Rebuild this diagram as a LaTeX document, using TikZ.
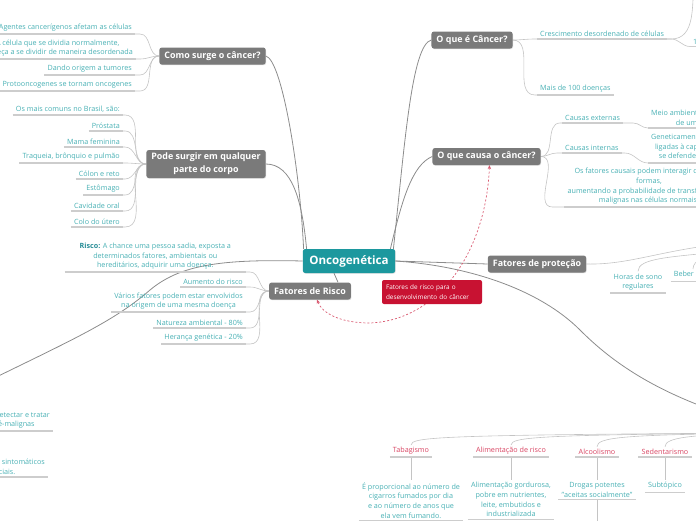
\documentclass[tikz,border=0pt]{standalone}
\usepackage{fontspec}
\setmainfont{Open Sans}
\usetikzlibrary{arrows.meta,shadows,backgrounds}

\definecolor{topicgray}{RGB}{122,122,122}
\definecolor{rootteal}{RGB}{28,152,158}
\definecolor{leafteal}{RGB}{72,176,180}
\definecolor{darkteal}{RGB}{38,140,150}
\definecolor{riskred}{RGB}{216,68,98}
\definecolor{relred}{RGB}{200,18,50}
\definecolor{branchgray}{RGB}{140,140,140}
\definecolor{twiggray}{RGB}{196,196,196}

\tikzset{
  topic/.style={fill=topicgray, text=white, rounded corners=2.5pt, align=center,
    font=\fontsize{8.9}{12.8}\selectfont\bfseries, inner xsep=5pt, inner ysep=2pt,
    minimum height=17pt, drop shadow={shadow xshift=0.5pt, shadow yshift=-0.7pt, opacity=0.3}},
  rootbox/.style={topic, fill=rootteal, font=\fontsize{11.6}{13}\selectfont\bfseries,
    inner xsep=6.5pt, minimum height=24pt},
  leaf/.style={text=leafteal, align=center, font=\fontsize{7.2}{9.7}\selectfont,
    inner xsep=3pt, inner ysep=2.2pt,
    append after command={(\tikzlastnode.south west) edge[uline] (\tikzlastnode.south east)}},
  riskleaf/.style={leaf, text=riskred},
  relbox/.style={fill=relred, text=white, rounded corners=2pt, align=left, text width=92pt,
    inner xsep=4pt, inner ysep=3pt, minimum height=24pt, font=\fontsize{6.4}{10}\selectfont},
  uline/.style={draw=twiggray!85, line width=1.1pt},
  twig/.style={draw=twiggray, line width=0.6pt},
  branch/.style={draw=branchgray, line width=0.8pt},
  relline/.style={draw=relred!70, line width=0.7pt, dash pattern=on 2pt off 2pt,
    <->, >={Stealth[length=4pt,width=3.5pt]}},
}

\begin{document}
\begin{tikzpicture}[x=1pt, y=-1pt]
    \useasboundingbox (0,0) rectangle (696,520);

    % central and main topics
    \node[rootbox] (onco) at (349,261) {Oncogenética};
    \node[topic] (como) at (212.5,56) {Como surge o câncer?};
    \node[topic, minimum height=28pt] (pode) at (206,164) {Pode surgir em qualquer\\parte do corpo};
    \node[topic] (risco) at (310,291) {Fatores de Risco};
    \node[topic] (oque) at (472,40) {O que é Câncer?};
    \node[topic] (causa) at (486.5,156.5) {O que causa o câncer?};
    \node[topic] (prot) at (537,264) {Fatores de proteção};

    % topics that lie outside the page
    \coordinate (fat) at (760,425);
    \coordinate (rast) at (-40,395);
    \coordinate (hab) at (730,243);
    \coordinate (cresc) at (694,-20);
    \coordinate (alcd) at (597,540);

    % como surge
    \node[leaf, anchor=south east] (c1) at (135,34) {Agentes cancerígenos afetam as células};
    \node[leaf, anchor=south east] (c2) at (136,59) {A célula que se dividia normalmente,\\começa a se dividir de maneira desordenada};
    \node[leaf, anchor=south east] (c3) at (135,75) {Dando origem a tumores};
    \node[leaf, anchor=south east] (c4) at (135,91) {Protooncogenes se tornam oncogenes};

    % pode surgir
    \node[leaf, anchor=south east] (p1) at (123,115) {Os mais comuns no Brasil, são:};
    \node[leaf, anchor=south east] (p2) at (123,131) {Próstata};
    \node[leaf, anchor=south east] (p3) at (123,147) {Mama feminina};
    \node[leaf, anchor=south east] (p4) at (123,163) {Traqueia, brônquio e pulmão};
    \node[leaf, anchor=south east] (p5) at (123,179) {Cólon e reto};
    \node[leaf, anchor=south east] (p6) at (123,195) {Estômago};
    \node[leaf, anchor=south east] (p7) at (123,211) {Cavidade oral};
    \node[leaf, anchor=south east] (p8) at (123,227) {Colo do útero};

    % fatores de risco
    \node[leaf, anchor=south east, minimum width=181pt] (r1) at (246,272) {{\color{darkteal}\bfseries Risco:} A chance uma pessoa sadia, exposta a\\determinados fatores, ambientais ou\\hereditários, adquirir uma doença.};
    \node[leaf, anchor=south east] (r2) at (246,287) {Aumento do risco};
    \node[leaf, anchor=south east] (r3) at (246,312) {Vários fatores podem estar envolvidos\\na origem de uma mesma doença};
    \node[leaf, anchor=south east] (r4) at (246,328) {Natureza ambiental - 80\%};
    \node[leaf, anchor=south east] (r5) at (246,344) {Herança genética - 20\%};

    % o que e cancer
    \node[leaf, anchor=south west] (q1) at (537,39) {Crescimento desordenado de células};
    \node[leaf, anchor=south west] (q2) at (537,95) {Mais de 100 doenças};
    \node[leaf, anchor=south west] (q1b) at (690,46.5) {1};

    % o que causa
    \node[leaf, anchor=south west] (k1) at (562,123) {Causas externas};
    \node[leaf, anchor=south west] (k2) at (562,153) {Causas internas};
    \node[leaf, anchor=south] (k3) at (649,207) {Os fatores causais podem interagir de várias\\formas,\\aumentando a probabilidade de transformações\\malignas nas células normais.};
    \node[leaf, anchor=south west] (k1b) at (648,128) {Meio ambiente e hábitos ou costumes próprios\\de um ambiente social e cultural};
    \node[leaf, anchor=south west] (k2b) at (648,163) {Geneticamente pré-determinadas, estão\\ligadas à capacidade do organismo de\\se defender das agressões externas};

    % protecao
    \node[leaf, anchor=south] (horas) at (638,293) {Horas de sono\\regulares};
    \node[leaf, anchor=north] (beber) at (693,269) {Beber água};

    % rastreamento
    \node[leaf, anchor=south east] (l1) at (53,431) {Rastreamento: detectar e tratar\\as lesões pré-malignas};
    \node[leaf, anchor=south east] (l2) at (48,477) {Diagnóstico precoce em pacientes sintomáticos\\com sinais e sintomas iniciais.};

    % habitos de risco
    \node[riskleaf, anchor=south] (tab) at (411,457) {Tabagismo};
    \node[riskleaf, anchor=south] (ali) at (511,457) {Alimentação de risco};
    \node[riskleaf, anchor=south] (alc) at (597,457) {Alcoolismo};
    \node[riskleaf, anchor=south] (sed) at (665,457) {Sedentarismo};
    \node[leaf, anchor=north] (tabc) at (411,480) {É proporcional ao número de\\cigarros fumados por dia\\e ao número de anos que\\ela vem fumando.};
    \node[leaf, anchor=north] (alic) at (511,480) {Alimentação gordurosa,\\pobre em nutrientes,\\leite, embutidos e\\industrializada};
    \node[leaf, anchor=north] (alcc) at (597,480) {Drogas potentes\\"aceitas socialmente"};
    \node[leaf, anchor=north] (sedc) at (665,480) {Subtópico};

    \node[relbox] (rel) at (432,292) {Fatores de risco para o\\desenvolvimento do câncer};

    \begin{scope}[on background layer]
        % main branches
        \draw[branch] ([xshift=1pt]onco.north west) .. controls (300,170) and (282,60) .. (como.east);
        \draw[branch] ([xshift=4pt]onco.north west) .. controls (302,200) and (292,164) .. (pode.east);
        \draw[branch] ([xshift=-15pt]onco.south) -- ([xshift=28pt]risco.north);
        \draw[branch] ([xshift=-2pt]onco.north east) .. controls (405,140) and (412,45) .. (oque.west);
        \draw[branch] ([xshift=-5pt]onco.north east) .. controls (402,200) and (412,165) .. (causa.west);
        \draw[branch] (onco.east) -- (prot.west);
        \draw[branch] (onco.east) .. controls (470,266) and (540,290) .. (580,330) .. controls (612,362) and (660,398) .. (fat);
        \draw[branch] (onco.west) .. controls (220,259) and (180,265) .. (150,290) .. controls (110,325) and (60,345) .. (rast);

        \draw[twig] (c1.south east) -- ++(5,0) to[out=0,in=180] (como.west);
        \draw[twig] (c2.south east) -- ++(4,0) to[out=0,in=180] (como.west);
        \draw[twig] (c3.south east) -- ++(5,0) to[out=0,in=180] (como.west);
        \draw[twig] (c4.south east) -- ++(5,0) to[out=0,in=180] (como.west);

        \draw[twig] (p1.south east) -- ++(2,0) to[out=0,in=180] (pode.west);
        \draw[twig] (p2.south east) -- ++(2,0) to[out=0,in=180] (pode.west);
        \draw[twig] (p3.south east) -- ++(2,0) to[out=0,in=180] (pode.west);
        \draw[twig] (p4.south east) -- ++(2,0) to[out=0,in=180] (pode.west);
        \draw[twig] (p5.south east) -- ++(2,0) to[out=0,in=180] (pode.west);
        \draw[twig] (p6.south east) -- ++(2,0) to[out=0,in=180] (pode.west);
        \draw[twig] (p7.south east) -- ++(2,0) to[out=0,in=180] (pode.west);
        \draw[twig] (p8.south east) -- ++(2,0) to[out=0,in=180] (pode.west);

        \draw[twig] (r1.south east) -- ++(4,0) to[out=0,in=180] (risco.west);
        \draw[twig] (r2.south east) -- ++(4,0) to[out=0,in=180] (risco.west);
        \draw[twig] (r3.south east) -- ++(4,0) to[out=0,in=180] (risco.west);
        \draw[twig] (r4.south east) -- ++(4,0) to[out=0,in=180] (risco.west);
        \draw[twig] (r5.south east) -- ++(4,0) to[out=0,in=180] (risco.west);

        \draw[twig] (oque.east) to[out=0,in=180] ([xshift=-2pt]q1.south west) -- (q1.south west);
        \draw[twig] (oque.east) to[out=0,in=180] ([xshift=-2pt]q2.south west) -- (q2.south west);
        \draw[twig] (q1.south east) -- ++(4,0) to[out=0,in=-95] (cresc);
        \draw[twig] (q1.south east) -- ++(4,0) to[out=0,in=180] (q1b.south west);

        \draw[twig] (causa.east) to[out=0,in=180] ([xshift=-2pt]k1.south west) -- (k1.south west);
        \draw[twig] (causa.east) to[out=0,in=180] ([xshift=-5pt]k2.south west) -- (k2.south west);
        \draw[twig] (causa.east) to[out=0,in=180] ([xshift=-12pt]k3.south west) -- (k3.south west);
        \draw[twig] (k1.south east) -- ++(10,0) to[out=0,in=180] (k1b.south west);
        \draw[twig] (k2.south east) -- ++(3,0) to[out=0,in=180] (k2b.south west);

        \draw[twig] (prot.east) .. controls (630,265) and (660,250) .. (hab);
        \draw[twig] ([yshift=-8pt]hab) .. controls (670,257) and (638,258) .. (horas.north);
        \draw[twig] ([yshift=-8pt]hab) .. controls (705,255) and (693,260) .. (beber.north);

        \draw[twig] (rast) to[out=-80,in=180] (l1.south west);
        \draw[twig] (rast) to[out=-80,in=180] (l2.south west);

        \draw[twig] ([yshift=-8pt]fat) .. controls (439,435) and (411,437) .. (tab.north);
        \draw[twig] ([yshift=-8pt]fat) .. controls (539,435) and (511,437) .. (ali.north);
        \draw[twig] ([yshift=-8pt]fat) .. controls (625,435) and (597,437) .. (alc.north);
        \draw[twig] ([yshift=-8pt]fat) .. controls (693,435) and (665,437) .. (sed.north);
        \draw[twig] (tab.south) -- (tabc.north);
        \draw[twig] (ali.south) -- (alic.north);
        \draw[twig] (alc.south) -- (alcc.north);
        \draw[twig] (sed.south) -- (sedc.north);
        \draw[twig] (alcc.south) -- (alcd);

        % relation
        \draw[relline] ([xshift=3pt]causa.south) .. controls (486,250) and (440,320) .. (370,323) .. controls (340,323) and (322,313) .. ([xshift=7pt]risco.south);
    \end{scope}
\end{tikzpicture}
\end{document}
